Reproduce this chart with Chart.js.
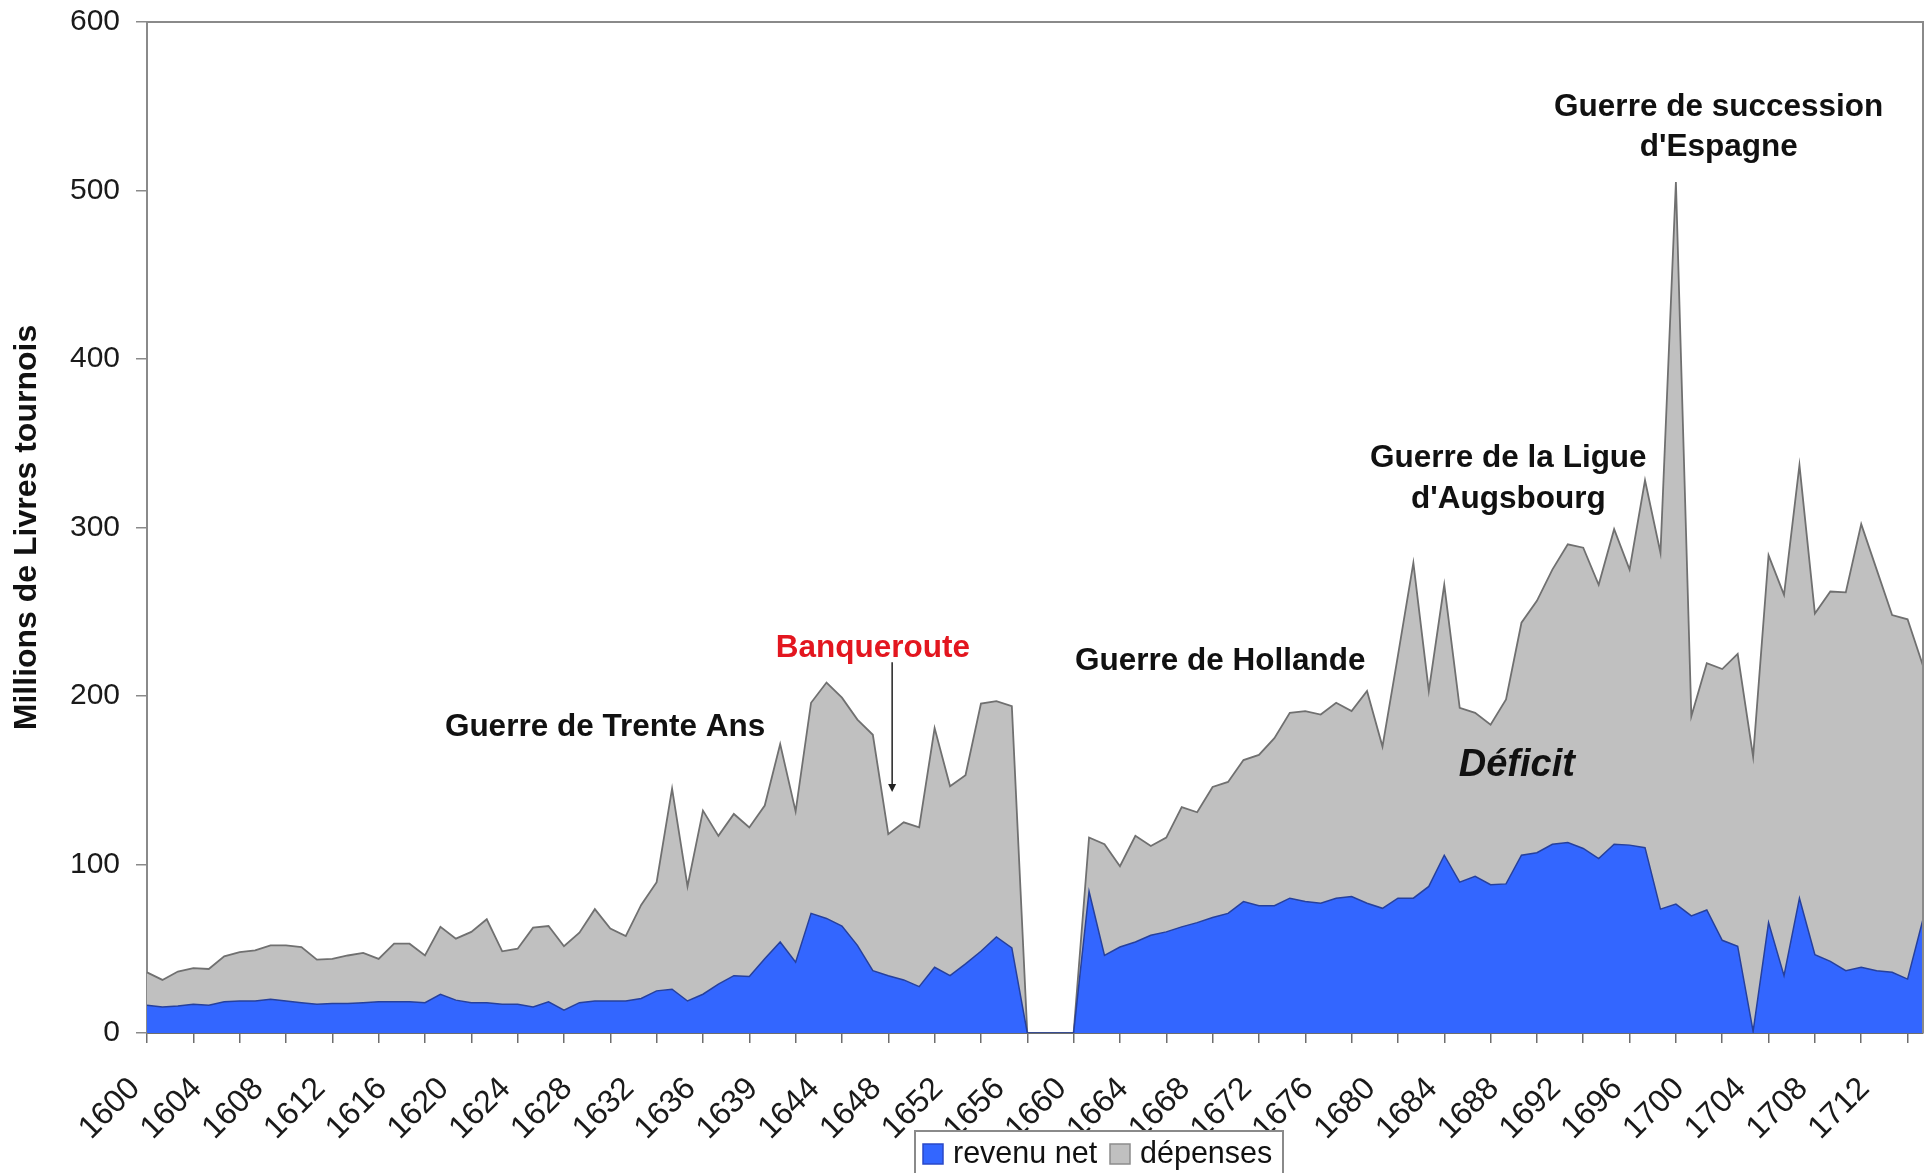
<!DOCTYPE html>
<html>
<head>
<meta charset="utf-8">
<script src="https://cdn.jsdelivr.net/npm/chart.js@4.4.0/dist/chart.umd.min.js"></script>
<style>
html,body{margin:0;padding:0;background:#fff;}
#wrap{width:1928px;height:1173px;position:relative;overflow:hidden;}
</style>
</head>
<body>
<div id="wrap"><canvas id="c" width="1928" height="1173"></canvas></div>
<script>
// ---- data ----
const years = [
  '1600','1601','1602','1603','1604','1605','1606','1607','1608','1609',
  '1610','1611','1612','1613','1614','1615','1616','1617','1618','1619',
  '1620','1621','1622','1623','1624','1625','1626','1627','1628','1629',
  '1630','1631','1632','1633','1634','1635','1636','1637','1638','1638',
  '1639','1640','1642','1643','1644','1645','1646','1647','1648','1649',
  '1650','1651','1652','1653','1654','1655','1656','1657','1658','1659',
  '1660','1661','1662','1663','1664','1665','1666','1667','1668','1669',
  '1670','1671','1672','1673','1674','1675','1676','1677','1678','1679',
  '1680','1681','1682','1683','1684','1685','1686','1687','1688','1689',
  '1690','1691','1692','1693','1694','1695','1696','1697','1698','1699',
  '1700','1701','1702','1703','1704','1705','1706','1707','1708','1709',
  '1710','1711','1712','1713','1714','1715'
];
const revenuNet = [
  16.5,15.5,16,17,16.5,18.5,19,19,20,19,
  18,17,17.5,17.5,18,18.5,18.5,18.5,18,23,
  19.5,18,18,17,17,15.5,18.5,13.5,18,19,
  19,19,20.5,25,26,19,23,29,34,33.5,
  44,54,42,71,68,63.5,52,37,34,31.5,
  27.5,39,34,41,48.5,57,50.5,0,0,0,
  0,84,46,51,54,58,60,63,65.5,68.5,
  71,78,75.5,75.5,80,78,77,80,81,77,
  74,80,80,87,105.5,89.5,93,88,88.5,105.5,
  107,112,113,109.5,103.5,112,111.5,110,73.5,76.5,
  69.5,73,55,51.5,1,65.5,34,80,46.5,42.5,
  37,39,37,36,32,67.5
];
const depenses = [
  36,31.5,36.5,38.5,38,45.5,48,49,52,52,
  51,43.5,44,46,47.5,44,53,53,46,63,
  56,60,67.5,48.5,50,62.5,63.5,51.5,59.5,73.5,
  62,57.5,76,89.5,145,87,132,117,130,122,
  135,171.5,131.5,196,208,199,186,177,118,125,
  122,181,146.5,153,195.5,197,194,0,0,0,
  0,116,112,99,117,111,116,134,131,146,
  149,162,165,175,190,191,189,196,191,203,
  170,224,279,203,266,193,190,183,198,243.5,
  256.5,275,290,288,266,299,275,328,285,505,
  188,219.5,216,225,164,283.5,260,337,249,262,
  261.5,302,275,248,245.5,218
];
const yTickValues = [0,100,200,300,400,500,600];
const seriesNames = ['revenu net','dépenses'];
const axisTitle = 'Millions de Livres tournois';

// annotations, anchored in data coordinates (category index, value)
const notes = [
  {lines:['Guerre de Trente Ans'], x:29.66, y:181.6, color:'#111'},
  {lines:['Banqueroute'], x:47.0, y:228.5, color:'#e3161f'},
  {lines:['Guerre de Hollande'], x:69.5, y:220.5, color:'#111'},
  {lines:['Guerre de la Ligue',"d'Augsbourg"], x:88.15, y:340.9, color:'#111'},
  {lines:['Guerre de succession',"d'Espagne"], x:101.77, y:549.6, color:'#111'},
  {lines:['Déficit'], x:88.7, y:159, color:'#111', italic:true}
];
const arrowNote = {x:48.25, yFrom:220, yTo:143};

const FONT = '"Liberation Sans", Arial, Helvetica, sans-serif';

const framePlugin = {
  id:'frame',
  afterDatasetsDraw(chart){
    const {ctx, chartArea:a} = chart;
    ctx.save();
    ctx.strokeStyle = '#8a8a8a';
    ctx.lineWidth = 2;
    ctx.beginPath();
    ctx.moveTo(a.left, a.top);
    ctx.lineTo(a.right, a.top);
    ctx.lineTo(a.right, a.bottom);
    ctx.stroke();
    ctx.restore();
  }
};

const notesPlugin = {
  id:'notes',
  afterDraw(chart){
    const {ctx} = chart;
    const xs = chart.scales.x, ys = chart.scales.y;
    ctx.save();
    ctx.textAlign = 'center';
    ctx.textBaseline = 'middle';
    notes.forEach(n => {
      const px = xs.getPixelForValue(n.x);
      const py = ys.getPixelForValue(n.y);
      ctx.fillStyle = n.color;
      ctx.font = n.italic ? ('italic bold 38px ' + FONT) : ('bold 31.5px ' + FONT);
      n.lines.forEach((t, k) => ctx.fillText(t, px, py + k * 40.6));
    });
    // arrow
    const ax = xs.getPixelForValue(arrowNote.x);
    const y1 = ys.getPixelForValue(arrowNote.yFrom);
    const y2 = ys.getPixelForValue(arrowNote.yTo);
    ctx.strokeStyle = '#222';
    ctx.fillStyle = '#222';
    ctx.lineWidth = 1.5;
    ctx.beginPath();
    ctx.moveTo(ax, y1);
    ctx.lineTo(ax, y2 - 6);
    ctx.stroke();
    ctx.beginPath();
    ctx.moveTo(ax - 4, y2 - 8);
    ctx.lineTo(ax + 4, y2 - 8);
    ctx.lineTo(ax, y2);
    ctx.closePath();
    ctx.fill();
    ctx.restore();
  }
};

const legendPlugin = {
  id:'boxLegend',
  afterDraw(chart){
    const {ctx} = chart;
    const ds = chart.data.datasets;
    ctx.save();
    ctx.strokeStyle = '#8a8a8a';
    ctx.lineWidth = 2;
    ctx.fillStyle = '#fff';
    ctx.fillRect(915, 1131, 368, 60);
    ctx.strokeRect(915, 1131, 368, 60);
    ctx.font = '30.5px ' + FONT;
    ctx.textBaseline = 'middle';
    ctx.textAlign = 'left';
    const items = [{x:923, tx:953}, {x:1110, tx:1140}];
    items.forEach((it, k) => {
      ctx.fillStyle = ds[k].backgroundColor;
      ctx.fillRect(it.x, 1144, 20, 20);
      ctx.strokeStyle = k === 0 ? '#2a48c8' : '#8c8c8c';
      ctx.lineWidth = 1.5;
      ctx.strokeRect(it.x, 1144, 20, 20);
      ctx.fillStyle = '#111';
      ctx.fillText(ds[k].label, it.tx, 1155);
    });
    ctx.restore();
  }
};

new Chart(document.getElementById('c'), {
  type:'line',
  data:{
    labels: years,
    datasets:[
      {label: seriesNames[0], data: revenuNet, fill:'origin',
       backgroundColor:'#3366ff', borderColor:'#26409c', borderWidth:1.5,
       pointRadius:0, tension:0},
      {label: seriesNames[1], data: depenses, fill:'origin',
       backgroundColor:'#c0c0c0', borderColor:'#707070', borderWidth:1.8,
       pointRadius:0, tension:0}
    ]
  },
  options:{
    responsive:false,
    animation:false,
    devicePixelRatio:1,
    layout:{padding:{top:22, right:5, bottom:0, left:0}},
    plugins:{legend:{display:false}, tooltip:{enabled:false}},
    scales:{
      x:{
        type:'category',
        offset:false,
        afterFit(s){ s.height = 140; s.paddingLeft = 0; s.paddingRight = 0; },
        border:{display:true, color:'#6e6e6e', width:2},
        grid:{
          drawOnChartArea:false, drawTicks:true, tickLength:10, lineWidth:1.5,
          color: c => (c.index % 3 === 0 ? '#6e6e6e' : 'rgba(0,0,0,0)')
        },
        ticks:{
          autoSkip:false, minRotation:45, maxRotation:45, padding:27, labelOffset:-12,
          color:'#1a1a1a', font:{family:FONT, size:32},
          callback:(v, i) => (i % 4 === 0 ? years[i] : '')
        }
      },
      y:{
        min:0, max:600,
        afterFit(s){ s.width = 147; s.paddingTop = 0; s.paddingBottom = 0; },
        afterBuildTicks(s){ s.ticks = yTickValues.map(v => ({value:v})); },
        border:{display:true, color:'#8a8a8a', width:2},
        grid:{drawOnChartArea:false, drawTicks:true, tickLength:11, color:'#8a8a8a', lineWidth:1.5},
        ticks:{padding:16, color:'#1a1a1a', font:{family:FONT, size:30}},
        title:{display:true, text:axisTitle, color:'#111',
               font:{family:FONT, size:32, weight:'bold'}, padding:{top:8, bottom:0}}
      }
    }
  },
  plugins:[framePlugin, notesPlugin, legendPlugin]
});
</script>
</body>
</html>
